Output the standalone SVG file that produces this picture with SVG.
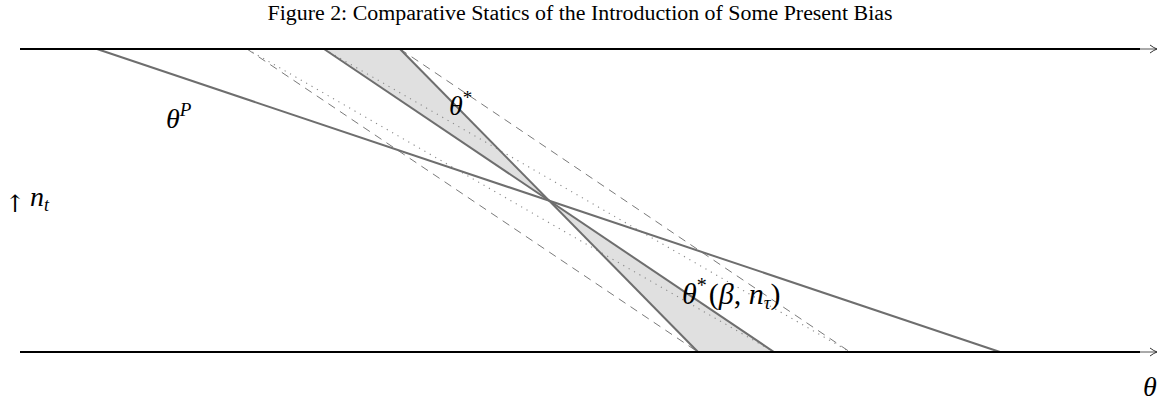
<svg xmlns="http://www.w3.org/2000/svg" width="1159" height="400" viewBox="0 0 1159 400">
  <style>
    .axis { stroke: #000; stroke-width: 2.2; fill: none; }
    .axtip { stroke: #555; stroke-width: 1; fill: none; }
    .solid { stroke: #6e6e6e; stroke-width: 2; fill: none; }
    .dash { stroke: #7a7a7a; stroke-width: 1; fill: none; stroke-dasharray: 8 6; }
    .dot { stroke: #8a8a8a; stroke-width: 1.1; fill: none; stroke-dasharray: 1.2 5; }
    .shade { fill: #e0e0e0; stroke: none; }
    .title { font-family: "Liberation Serif", "DejaVu Serif", serif; font-size: 20px; fill: #000; }
    .math { font-family: "Liberation Serif", "DejaVu Serif", serif; font-style: italic; font-size: 28px; fill: #000; }
    .up { font-family: "DejaVu Serif", "Liberation Serif", serif; font-size: 24px; fill: #000; }
  </style>
  <defs>
    <marker id="chev" viewBox="0 0 10 10" refX="9" refY="5" markerWidth="10" markerHeight="10" markerUnits="userSpaceOnUse" orient="auto">
      <path d="M2,1 Q6,4 9,5 Q6,6 2,9" fill="none" stroke="#333" stroke-width="1"/>
    </marker>
  </defs>

  <text id="title" class="title" x="580" y="20" text-anchor="middle" textLength="625" lengthAdjust="spacingAndGlyphs">Figure 2: Comparative Statics of the Introduction of Some Present Bias</text>

  <g id="region">
    <polygon class="shade" points="324,49 400,49 549,200.5"/>
    <polygon class="shade" points="549,200.5 698,352 774,352"/>
  </g>

  <g id="connectors">
    <line class="dash" x1="247" y1="49" x2="698" y2="352"/>
    <line class="dash" x1="400" y1="49" x2="850" y2="352"/>
    <line class="dot" x1="247" y1="49" x2="774" y2="352"/>
    <line class="dot" x1="324" y1="49" x2="850" y2="352"/>
    <line class="solid" x1="97" y1="49" x2="1000" y2="352"/>
    <line class="solid" x1="324" y1="49" x2="774" y2="352"/>
    <line class="solid" x1="400" y1="49" x2="698" y2="352"/>
  </g>

  <g id="axis-top">
    <line class="axtip" x1="1130" y1="49" x2="1157" y2="49" marker-end="url(#chev)"/>
    <line class="axis" x1="20" y1="49" x2="1140" y2="49"/>
  </g>
  <g id="axis-bottom">
    <line class="axtip" x1="1130" y1="352" x2="1157" y2="352" marker-end="url(#chev)"/>
    <line class="axis" x1="20" y1="352" x2="1140" y2="352"/>
  </g>

  <g id="label-thetaP">
    <text class="math" x="166" y="128">θ<tspan style="font-size:19px" dy="-12">P</tspan></text>
  </g>
  <g id="label-thetastar">
    <text class="math" x="449" y="115">θ<tspan style="font-style:normal;font-size:19px" dy="-11">*</tspan></text>
  </g>
  <g id="label-thetabeta">
    <text class="math" x="682" y="304" style="font-size:30px">θ<tspan style="font-style:normal;font-size:20px" dy="-12">*</tspan><tspan style="font-style:normal" dy="12" dx="2">(</tspan>β<tspan style="font-style:normal">, </tspan>n<tspan style="font-size:19px" dy="5">τ</tspan><tspan style="font-style:normal" dy="-5">)</tspan></text>
  </g>
  <g id="label-nt">
    <text class="up" x="5" y="212">↑</text>
    <text class="math" x="30" y="206">n<tspan style="font-size:18px" dy="5">t</tspan></text>
  </g>
  <g id="label-theta">
    <text class="math" x="1143" y="396">θ</text>
  </g>
</svg>
